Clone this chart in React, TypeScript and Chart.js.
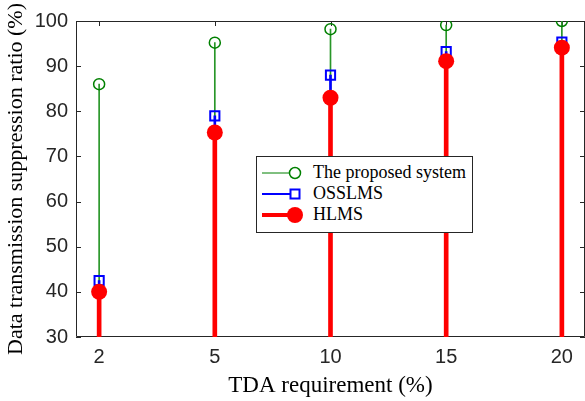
import React, { useEffect, useRef } from "react";
import { Chart, registerables } from "chart.js";

Chart.register(...registerables);

const categories = ["2", "5", "10", "15", "20"];
const proposedSystem = [86, 95.2, 98.2, 99.1, 100];
const osslms = [42.5, 79, 88, 93.2, 95.3];
const hlms = [40, 75.3, 83, 91.1, 94.1];
const yTickValues = [30, 40, 50, 60, 70, 80, 90, 100];
const baseline = 30;
const seriesNames = ["The proposed system", "OSSLMS", "HLMS"];

const GREEN = "rgb(0,128,0)";
const BLUE = "rgb(0,0,255)";
const RED = "rgb(255,0,0)";
const AXIS = "#262626";

const boxPlugin = {
  id: "matlabBox",
  beforeDatasetsDraw(chart: any) {
    const { ctx, chartArea, scales } = chart;
    const { left, right, top, bottom } = chartArea;
    ctx.save();
    ctx.strokeStyle = AXIS;
    ctx.lineWidth = 1;
    ctx.beginPath();
    ctx.rect(left + 0.5, top + 0.5, right - left - 1, bottom - top - 1);
    ctx.stroke();
    const tl = 5;
    ctx.beginPath();
    scales.y.ticks.forEach((t: any) => {
      const y = Math.round(scales.y.getPixelForValue(t.value)) + 0.5;
      ctx.moveTo(left, y);
      ctx.lineTo(left + tl, y);
      ctx.moveTo(right, y);
      ctx.lineTo(right - tl, y);
    });
    scales.x.ticks.forEach((t: any) => {
      const x = Math.round(scales.x.getPixelForValue(t.value)) + 0.5;
      ctx.moveTo(x, bottom);
      ctx.lineTo(x, bottom - tl);
      ctx.moveTo(x, top);
      ctx.lineTo(x, top + tl);
    });
    ctx.stroke();
    ctx.restore();
  },
};

function LegendIcon({ kind }: { kind: number }) {
  if (kind === 0) {
    return (
      <svg width={42} height={20} style={{ display: "block" }}>
        <line x1={0} y1={10} x2={33} y2={10} stroke={GREEN} strokeWidth={1} />
        <circle cx={33} cy={10} r={5.5} fill="white" stroke={GREEN} strokeWidth={1.5} />
      </svg>
    );
  }
  if (kind === 1) {
    return (
      <svg width={42} height={20} style={{ display: "block" }}>
        <line x1={0} y1={10} x2={33} y2={10} stroke={BLUE} strokeWidth={2} />
        <rect x={28.5} y={5.5} width={9} height={9} fill="white" stroke={BLUE} strokeWidth={2} />
      </svg>
    );
  }
  return (
    <svg width={42} height={20} style={{ display: "block" }}>
      <line x1={0} y1={10} x2={33} y2={10} stroke={RED} strokeWidth={4} />
      <circle cx={33} cy={10} r={8} fill={RED} />
    </svg>
  );
}

export default function App() {
  const canvasRef = useRef<HTMLCanvasElement>(null);

  useEffect(() => {
    const canvas = canvasRef.current;
    if (!canvas) return;
    const pts = (arr: number[]) => arr.map((v, i) => ({ x: i + 1, y: v }));
    const stems = (arr: number[]) => arr.map((v, i) => ({ x: i + 1, y: [baseline, v] }));

    const chart = new Chart(canvas, {
      type: "bar",
      data: {
        datasets: [
          {
            type: "bar",
            label: "stem-proposed",
            data: stems(proposedSystem) as any,
            backgroundColor: "rgb(40,150,40)",
            barThickness: 1,
            grouped: false,
            order: 5,
          } as any,
          {
            type: "line",
            label: seriesNames[0],
            data: pts(proposedSystem),
            showLine: false,
            pointStyle: "circle",
            pointRadius: 5.5,
            pointBorderWidth: 1.5,
            borderColor: GREEN,
            pointBackgroundColor: "rgba(255,255,255,0)",
            pointBorderColor: GREEN,
            order: 4,
          },
          {
            type: "bar",
            label: "stem-osslms",
            data: stems(osslms) as any,
            backgroundColor: BLUE,
            barThickness: 2,
            grouped: false,
            order: 3,
          } as any,
          {
            type: "line",
            label: seriesNames[1],
            data: pts(osslms),
            showLine: false,
            pointStyle: "rect",
            pointRadius: 6.5,
            pointBorderWidth: 2,
            borderColor: BLUE,
            pointBackgroundColor: "rgba(255,255,255,0)",
            pointBorderColor: BLUE,
            order: 2,
          },
          {
            type: "bar",
            label: "stem-hlms",
            data: stems(hlms) as any,
            backgroundColor: RED,
            barThickness: 4,
            grouped: false,
            order: 1,
          } as any,
          {
            type: "line",
            label: seriesNames[2],
            data: pts(hlms),
            showLine: false,
            pointStyle: "circle",
            pointRadius: 8,
            pointBorderWidth: 0,
            borderColor: RED,
            pointBackgroundColor: RED,
            pointBorderColor: RED,
            order: 0,
          },
        ],
      },
      options: {
        responsive: false,
        animation: false,
        events: [],
        layout: { autoPadding: false, padding: { top: 21, right: 0, bottom: 0, left: 0 } },
        plugins: {
          legend: { display: false },
          tooltip: { enabled: false },
        },
        scales: {
          x: {
            type: "linear",
            min: 0.8,
            max: 5.2,
            offset: false,
            grid: { display: false, drawTicks: false, offset: false },
            border: { display: false },
            afterBuildTicks: (scale: any) => {
              scale.ticks = categories.map((_, i) => ({ value: i + 1 }));
            },
            afterFit: (scale: any) => {
              scale.height = 64;
              scale.paddingRight = 0;
              scale.paddingLeft = 0;
            },
            ticks: {
              padding: 8,
              autoSkip: false,
              maxRotation: 0,
              color: AXIS,
              font: { family: "'Liberation Sans', Arial, sans-serif", size: 20 },
              callback: (_v: any, i: number) => categories[i],
            },
            title: {
              display: true,
              text: "TDA requirement (%)",
              color: "#000",
              font: { family: "'Liberation Serif', 'Times New Roman', serif", size: 23 },
              padding: { top: 0, bottom: 1 },
            },
          },
          y: {
            type: "linear",
            min: 30,
            max: 100,
            grid: { display: false, drawTicks: false },
            border: { display: false },
            afterBuildTicks: (scale: any) => {
              scale.ticks = yTickValues.map((v) => ({ value: v }));
            },
            afterFit: (scale: any) => {
              scale.width = 76;
            },
            ticks: {
              padding: 8,
              color: AXIS,
              font: { family: "'Liberation Sans', Arial, sans-serif", size: 20 },
            },
            title: {
              display: true,
              text: "Data transmission suppression ratio (%)",
              color: "#000",
              font: { family: "'Liberation Serif', 'Times New Roman', serif", size: 22 },
              padding: { top: 3, bottom: 0 },
            },
          },
        },
      } as any,
      plugins: [boxPlugin],
    });
    return () => chart.destroy();
  }, []);

  return (
    <div style={{ position: "absolute", left: 0, top: 0, width: 585, height: 401, background: "#fff" }}>
      <canvas ref={canvasRef} width={585} height={401} style={{ display: "block" }} />
      <div
        style={{
          position: "absolute",
          left: 256,
          top: 156,
          width: 215,
          height: 70,
          border: `1px solid ${AXIS}`,
          background: "#fff",
          fontFamily: "'Liberation Serif', 'Times New Roman', serif",
          fontSize: 18,
          color: "#000",
          paddingTop: 5,
          boxSizing: "content-box",
        }}
      >
        {seriesNames.map((name, k) => (
          <div
            key={name}
            style={{ display: "flex", alignItems: "center", height: 21, lineHeight: "21px", whiteSpace: "nowrap" }}
          >
            <div style={{ marginLeft: 5, marginRight: 9 }}>
              <LegendIcon kind={k} />
            </div>
            <span>{name}</span>
          </div>
        ))}
      </div>
    </div>
  );
}
